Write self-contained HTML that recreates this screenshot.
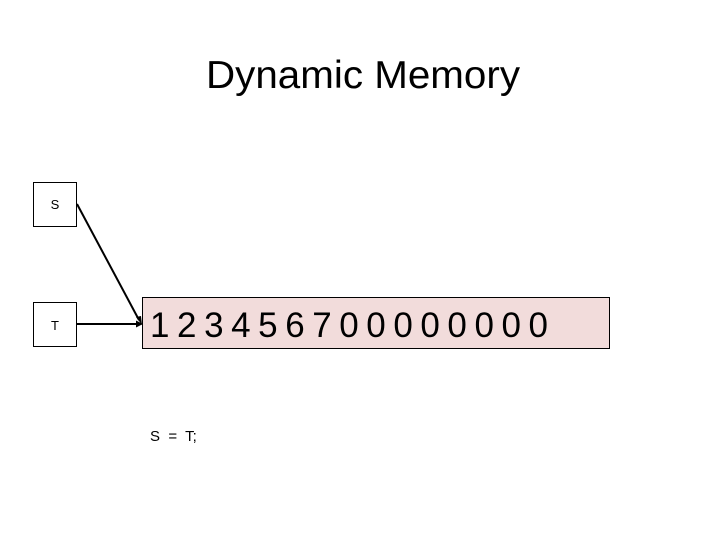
<!DOCTYPE html>
<html><head><meta charset="utf-8"><style>
html,body{margin:0;padding:0;background:#fff;}
svg{display:block;}
</style></head><body>
<svg width="720" height="540" viewBox="0 0 720 540" xmlns="http://www.w3.org/2000/svg" font-family="Liberation Sans, sans-serif">
<rect width="720" height="540" fill="#fff"/>
<text x="206" y="88" font-size="39" textLength="314" lengthAdjust="spacingAndGlyphs" fill="#000">Dynamic Memory</text>
<rect x="33.5" y="182.5" width="43" height="44" fill="#fff" stroke="#000" stroke-width="1"/>
<text x="55" y="209" font-size="13" text-anchor="middle" fill="#000">S</text>
<rect x="33.5" y="302.5" width="43" height="44" fill="#fff" stroke="#000" stroke-width="1"/>
<text x="55" y="330" font-size="13" text-anchor="middle" fill="#000">T</text>
<rect x="142.5" y="297.5" width="467" height="51" fill="#f2dcdb" stroke="#000" stroke-width="1"/>
<text x="150" y="337" font-size="35" textLength="398" lengthAdjust="spacing" fill="#000">1 2 3 4 5 6 7 0 0 0 0 0 0 0 0</text>
<line x1="77" y1="204" x2="139" y2="320" stroke="#000" stroke-width="2"/>
<polygon points="142,325 136,317 141,316" fill="#000"/>
<line x1="77" y1="324" x2="137" y2="324" stroke="#000" stroke-width="2"/>
<polygon points="143,324 136,320.5 136,327.5" fill="#000"/>
<text x="150" y="441" font-size="15" fill="#000" xml:space="preserve">S  =  T;</text>
</svg>
</body></html>
